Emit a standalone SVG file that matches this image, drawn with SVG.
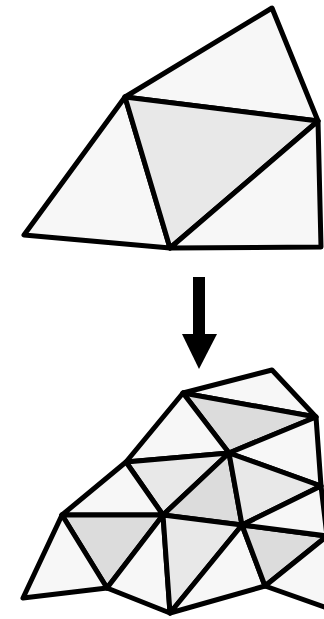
<svg xmlns="http://www.w3.org/2000/svg" width="324" height="619" viewBox="0 0 324 619">
<style>
.t{stroke:#000;stroke-width:5;stroke-linejoin:round}
.l{fill:#f7f7f7}
.m{fill:#e8e8e8}
.d{fill:#dcdcdc}
</style>
<rect width="324" height="619" fill="#fff"/>
<g id="coarse-mesh">
<polygon class="t l" points="272,8 125,97 318,121"/>
<polygon class="t l" points="125,97 24,235 170,248"/>
<polygon class="t m" points="125,97 318,121 170,248"/>
<polygon class="t l" points="318,121 321,247 170,248"/>
</g>
<g id="connectors">
<rect x="193" y="277" width="12" height="58" fill="#000"/>
<polygon points="182,334 217,334 199,369" fill="#000"/>
</g>
<g id="fine-mesh">
<polygon class="t l" points="272,370 183,393 316,417"/>
<polygon class="t d" points="183,393 316,417 229,453"/>
<polygon class="t l" points="183,393 126,462 229,453"/>
<polygon class="t l" points="316,417 229,453 321,486"/>
<polygon class="t m" points="126,462 229,453 163,515"/>
<polygon class="t d" points="229,453 163,515 242,525"/>
<polygon class="t m" points="229,453 321,486 242,525"/>
<polygon class="t l" points="126,462 62,515 163,515"/>
<polygon class="t d" points="62,515 163,515 107,588"/>
<polygon class="t l" points="62,515 23,598 107,588"/>
<polygon class="t l" points="163,515 107,588 170,613"/>
<polygon class="t m" points="163,515 242,525 170,613"/>
<polygon class="t l" points="242,525 170,613 265,586"/>
<polygon class="t d" points="242,525 265,586 327,536"/>
<polygon class="t l" points="321,486 242,525 327,536"/>
<polygon class="t l" points="265,586 327,536 327,608"/>
</g>
</svg>
